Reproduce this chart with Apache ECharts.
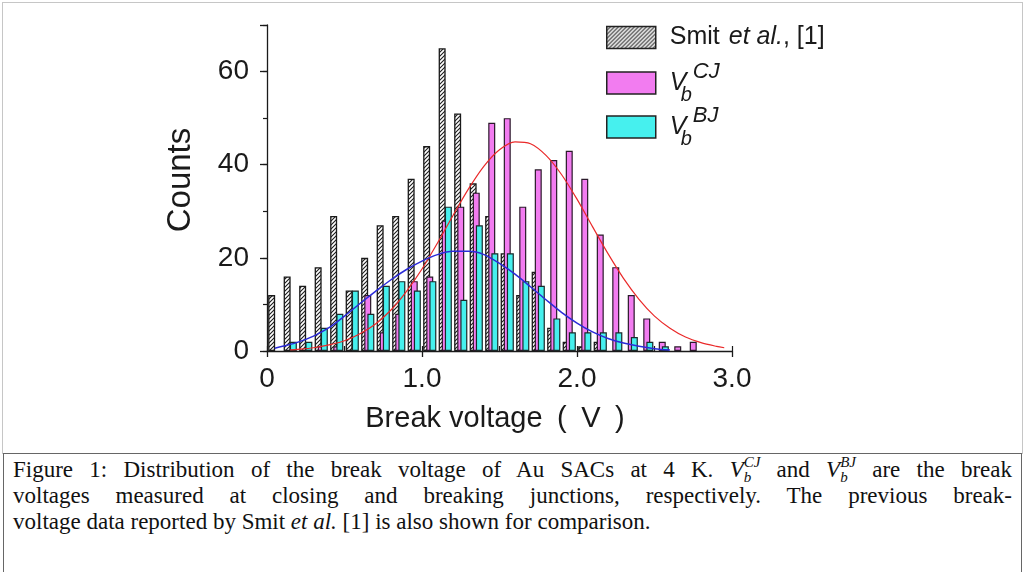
<!DOCTYPE html>
<html>
<head>
<meta charset="utf-8">
<script src="https://cdn.jsdelivr.net/npm/echarts@6/dist/echarts.min.js"></script>
<style>
  html, body { margin: 0; padding: 0; background: #fff; }
  #wrap { position: relative; width: 1026px; height: 572px; overflow: hidden; background: #fff; }
  #chart { position: absolute; left: 0; top: 0; width: 1026px; height: 572px; }
  #frame { position: absolute; left: 2px; top: 2px; width: 1021px; height: 452px;
           border: 1px solid #c6c6c6; border-bottom: none; box-sizing: border-box; pointer-events: none; }
  #caption { position: absolute; left: 3px; top: 453px; width: 1019px; height: 130px;
             border: 1.5px solid #666; border-bottom: none; box-sizing: border-box; background: #fff;
             font-family: 'Liberation Serif', 'Times New Roman', serif; font-size: 23px; color: #111;
             padding: 3px 9px 0 9px; }
  .ln { line-height: 26px; height: 26px; white-space: nowrap; overflow: visible; }
  .j { white-space: normal; text-align: justify; text-align-last: justify; }
  .sb { font-size: 15px; position: relative; top: 5px; }
  .sp { font-size: 15px; position: relative; top: -10px; margin-left: -7.5px; }
</style>
</head>
<body>
<div id="wrap">
  <div id="chart"></div>
  <div id="frame"></div>
  <div id="caption">
    <div class="ln j">Figure 1: Distribution of the break voltage of Au SACs at 4 K. <i>V</i><i class="sb">b</i><i class="sp">CJ</i> and <i>V</i><i class="sb">b</i><i class="sp">BJ</i> are the break</div>
    <div class="ln j">voltages measured at closing and breaking junctions, respectively. The previous break-</div>
    <div class="ln">voltage data reported by Smit <i>et al.</i> [1] is also shown for comparison.</div>
  </div>
</div>
<script>
// Histogram bins (left edge of each 0.1 V bin)
const bins = [0.0, 0.1, 0.2, 0.3, 0.4, 0.5, 0.6, 0.7, 0.8, 0.9,
              1.0, 1.1, 1.2, 1.3, 1.4, 1.5, 1.6, 1.7, 1.8, 1.9,
              2.0, 2.1, 2.2, 2.3, 2.4, 2.5, 2.6, 2.7];

// Counts per bin
const smitCounts = [12, 16, 14, 18, 29, 13, 20, 27, 29, 37,
                    44, 65, 51, 36, 29, 21, 12, 17, 5, 2,
                    1, 2, 0, 0, 0, 0, 0, 0];
const cjCounts   = [0, 0, 0, 1, 1, 0, 12, 4, 8, 15,
                    16, 28, 31, 34, 49, 50, 31, 39, 41, 43,
                    37, 25, 18, 12, 7, 2, 1, 2];
const bjCounts   = [0, 2, 2, 5, 8, 13, 8, 14, 15, 13,
                    15, 31, 11, 27, 21, 21, 15, 14, 7, 4,
                    4, 4, 4, 3, 2, 1, 0, 0];

// Fitted distributions (voltage, counts)
const cjFitV = [0.15, 0.2, 0.3, 0.4, 0.5, 0.6, 0.7, 0.8, 0.9, 1.0,
                1.1, 1.2, 1.3, 1.4, 1.5, 1.6, 1.7, 1.8, 1.9, 2.0,
                2.1, 2.2, 2.3, 2.4, 2.5, 2.6, 2.7, 2.8, 2.9, 2.95];
const cjFitCounts = [0.25, 0.36, 0.7, 1.3, 2.2, 3.7, 5.8, 8.8, 12.8, 17.6,
                     23.2, 29.1, 34.8, 39.7, 43.2, 44.9, 44.5, 42.0, 37.9, 32.6,
                     26.7, 20.9, 15.6, 11.1, 7.5, 4.9, 3.0, 1.8, 1.0, 0.7];
const bjFitV = [0.05, 0.1, 0.2, 0.3, 0.4, 0.5, 0.6, 0.7, 0.8, 0.9,
                1.0, 1.1, 1.2, 1.3, 1.4, 1.5, 1.6, 1.7, 1.8, 1.9,
                2.0, 2.1, 2.2, 2.3, 2.4, 2.5, 2.6];
const bjFitCounts = [0.6, 1.0, 1.9, 3.2, 5.0, 7.5, 10.2, 12.8, 15.3, 17.5,
                     19.3, 20.7, 21.4, 21.4, 20.7, 18.8, 16.5, 13.8, 11.0, 8.3,
                     6.0, 4.1, 2.7, 1.7, 1.0, 0.5, 0.2];

// Axis tick labels
const xTickValues = [0, 1, 2, 3];
const xTickLabels = ['0', '1.0', '2.0', '3.0'];
const yTickValues = [0, 20, 40, 60];

const seriesNames = ['Smit et al., [1]', 'Vb CJ', 'Vb BJ'];

const FONT = "'Liberation Sans', Arial, Helvetica, sans-serif";
const INK = '#1a1a1a';

// diagonal hatch fill for the reference histogram
function makeHatch() {
  const c = document.createElement('canvas');
  c.width = 4; c.height = 4;
  const g = c.getContext('2d');
  g.fillStyle = '#ffffff';
  g.fillRect(0, 0, 4, 4);
  g.strokeStyle = '#1c1c1c';
  g.lineWidth = 1.1;
  g.beginPath();
  g.moveTo(-1, 5); g.lineTo(5, -1);
  g.moveTo(-1, 1); g.lineTo(1, -1);
  g.moveTo(3, 5); g.lineTo(5, 3);
  g.stroke();
  return c;
}
const hatch = makeHatch();

function barData(counts, shift) {
  const out = [];
  bins.forEach((b, i) => {
    if (counts[i] > 0) out.push([Math.round((b + shift) * 1000) / 1000, counts[i]]);
  });
  return out;
}
function lineData(vs, cs) { return vs.map((v, i) => [v, cs[i]]); }

const rich = {
  n:  { fontSize: 25, fontFamily: FONT, color: INK, lineHeight: 36 },
  e:  { fontSize: 25, fontFamily: FONT, color: INK, fontStyle: 'italic', lineHeight: 36, padding: [0, 0, 0, 9] },
  v:  { fontSize: 25, fontFamily: FONT, color: INK, fontStyle: 'italic', lineHeight: 44, width: 11 },
  sb: { fontSize: 20, fontFamily: FONT, color: INK, fontStyle: 'italic', lineHeight: 20, verticalAlign: 'bottom', width: 12 },
  sp: { fontSize: 22, fontFamily: FONT, color: INK, fontStyle: 'italic', lineHeight: 30, verticalAlign: 'top' }
};
const legendText = {};
legendText[seriesNames[0]] = '{n|Smit}{e|et al.}{n|, [1]}';
legendText[seriesNames[1]] = '{v|V}{sb|b}{sp|CJ}';
legendText[seriesNames[2]] = '{v|V}{sb|b}{sp|BJ}';

function legendFor(name, top) {
  return {
    data: [name], orient: 'vertical', left: 601, top: top,
    icon: 'rect', itemWidth: 49, itemHeight: 22,
    itemStyle: { borderColor: '#222', borderWidth: 1.5 },
    formatter: n => legendText[n],
    textStyle: { rich: rich, padding: [0, 0, 0, 9] },
    selectedMode: false
  };
}

const chart = echarts.init(document.getElementById('chart'), null, { renderer: 'canvas' });

const option = {
  animation: false,
  backgroundColor: '#ffffff',
  grid: { left: 267, top: 25, width: 465, height: 326 },
  legend: [
    legendFor(seriesNames[0], 20),
    legendFor(seriesNames[1], 56),
    legendFor(seriesNames[2], 100)
  ],
  xAxis: [
    {
      type: 'value', min: 0, max: 3, interval: 1,
      axisLine: { lineStyle: { color: INK, width: 1.3 } },
      axisTick: { show: true, length: 6, lineStyle: { color: INK, width: 1.3 } },
      splitLine: { show: false },
      axisLabel: {
        margin: 14, fontSize: 28, fontFamily: FONT, color: INK,
        formatter: v => { const k = xTickValues.indexOf(v); return k >= 0 ? xTickLabels[k] : ''; }
      },
      name: 'Break voltage\u2002(\u2002V\u2002)', nameLocation: 'middle', nameGap: 53,
      nameTextStyle: { fontSize: 29, fontFamily: FONT, color: INK, padding: [0, 9, 0, 0] }
    },
    {
      type: 'value', min: 0, max: 3, interval: 0.5, position: 'bottom',
      axisLine: { show: false },
      axisTick: { show: true, inside: true, length: 5, lineStyle: { color: INK, width: 1.2 } },
      axisLabel: { show: false }, splitLine: { show: false }
    }
  ],
  yAxis: [
    {
      type: 'value', min: 0, max: 70, interval: 20,
      axisLine: { show: true, lineStyle: { color: INK, width: 1.3 } },
      axisTick: { show: true, length: 7, lineStyle: { color: INK, width: 1.3 } },
      splitLine: { show: false },
      axisLabel: {
        margin: 18, fontSize: 28, fontFamily: FONT, color: INK,
        formatter: v => yTickValues.indexOf(v) >= 0 ? String(v) : ''
      },
      name: 'Counts', nameLocation: 'middle', nameGap: 70, nameRotate: 90,
      nameTextStyle: { fontSize: 33, fontFamily: FONT, color: INK, padding: [0, 0, 0, 16] }
    },
    {
      type: 'value', min: 0, max: 70, interval: 10, position: 'left',
      axisLine: { show: false },
      axisTick: { show: true, length: 4, lineStyle: { color: INK, width: 1.2 } },
      axisLabel: { show: false }, splitLine: { show: false }
    }
  ],
  series: [
    {
      name: seriesNames[0], type: 'bar', xAxisIndex: 0, yAxisIndex: 0,
      data: barData(smitCounts, 0.03), barWidth: 7, barGap: '-100%',
      itemStyle: { color: { image: hatch, repeat: 'repeat' }, borderColor: '#1a1a1a', borderWidth: 1.3 },
      z: 2
    },
    {
      name: seriesNames[1], type: 'bar', xAxisIndex: 0, yAxisIndex: 0,
      data: barData(cjCounts, 0.05), barWidth: 7, barGap: '-100%',
      itemStyle: { color: '#f27cf0', borderColor: '#2a1a2a', borderWidth: 1.2 },
      z: 3
    },
    {
      name: seriesNames[2], type: 'bar', xAxisIndex: 0, yAxisIndex: 0,
      data: barData(bjCounts, 0.07), barWidth: 7, barGap: '-100%',
      itemStyle: { color: '#46f0ee', borderColor: '#1a2a2a', borderWidth: 1.2 },
      z: 4
    },
    {
      name: 'CJ fit', type: 'line', xAxisIndex: 0, yAxisIndex: 0,
      data: lineData(cjFitV, cjFitCounts), smooth: 0.3, symbol: 'none',
      lineStyle: { color: '#ea2a2a', width: 1.2 }, z: 6
    },
    {
      name: 'BJ fit', type: 'line', xAxisIndex: 0, yAxisIndex: 0,
      data: lineData(bjFitV, bjFitCounts), smooth: 0.3, symbol: 'none',
      lineStyle: { color: '#2b2bd8', width: 1.5 }, z: 6
    }
  ]
};
chart.setOption(option);
</script>
</body>
</html>
